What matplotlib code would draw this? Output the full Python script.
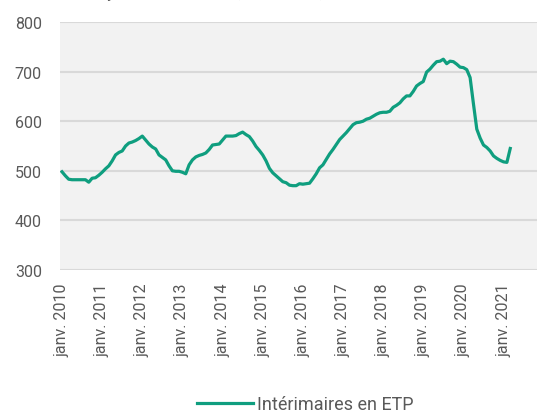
import matplotlib.pyplot as plt

# Intérimaires en équivalent temps plein, en milliers (mensuel, janv. 2010 - mars 2021)
y2010 = [498, 490, 483, 482, 482, 482, 482, 482, 477, 485, 486, 491]
y2011 = [497, 504, 510, 520, 532, 537, 540, 550, 556, 558, 561, 565]
y2012 = [570, 562, 554, 548, 544, 532, 527, 522, 510, 500, 499, 499]
y2013 = [497, 494, 512, 522, 528, 531, 533, 536, 543, 552, 553, 554]
y2014 = [562, 570, 570, 570, 571, 575, 578, 573, 569, 560, 549, 541]
y2015 = [532, 520, 505, 496, 490, 484, 478, 476, 471, 470, 470, 474]
y2016 = [473, 474, 475, 484, 494, 506, 512, 523, 534, 543, 553, 563]
y2017 = [570, 577, 585, 593, 597, 598, 600, 604, 606, 610, 614, 617]
y2018 = [618, 618, 620, 628, 632, 637, 645, 651, 651, 660, 671, 676]
y2019 = [680, 699, 705, 713, 720, 721, 725, 716, 721, 720, 715, 709]
y2020 = [708, 704, 688, 635, 584, 566, 552, 547, 540, 530, 525, 521]
y2021 = [518, 517, 545]

values = y2010 + y2011 + y2012 + y2013 + y2014 + y2015 + y2016 + y2017 + y2018 + y2019 + y2020 + y2021
years = list(range(2010, 2022))
tick_labels = ["janv. " + str(y) for y in years]

plt.rcParams['font.family'] = ['Roboto', 'DejaVu Sans']
plt.rcParams['ytick.major.pad'] = 13
plt.rcParams['xtick.major.pad'] = 9

txt = '#595959'
green = '#0f9e7f'

fig = plt.figure(figsize=(5.37, 4.14), dpi=100)
ax = fig.add_axes([60 / 537, 1 - 271 / 414, 1 - 60 / 537, (271 - 23) / 414])
ax.set_facecolor('#f2f2f2')

ax.plot(range(len(values)), values, color=green, lw=2.3, label='Intérimaires en ETP',
        solid_joinstyle='round')

ax.set_ylim(300, 800)
ax.set_yticks([300, 400, 500, 600, 700, 800])
ax.set_xlim(-0.6, 142)
ax.set_xticks([12 * i for i in range(len(years))])
ax.set_xticklabels(tick_labels, rotation=90)

ax.grid(axis='y', color='#d9d9d9', lw=1.5)
ax.set_axisbelow(True)
for s in ax.spines.values():
    s.set_visible(False)
ax.tick_params(axis='y', length=0, pad=13, labelsize=11.5, labelcolor=txt)
ax.tick_params(axis='x', length=0, pad=9, labelsize=11.5, labelcolor=txt)

fig.legend(loc='center', bbox_to_anchor=(305 / 537, 1 - 405 / 414), frameon=False,
           fontsize=13, labelcolor=txt, handlelength=3.1, handletextpad=0.2)

# titre coupé en haut de l'image
fig.text(62 / 537, 1 + 2 / 414, "En moyenne trimestrielle, en milliers, données CVS",
         fontsize=11.5, color=txt, va='baseline')

fig.savefig('out.png', dpi=100)
